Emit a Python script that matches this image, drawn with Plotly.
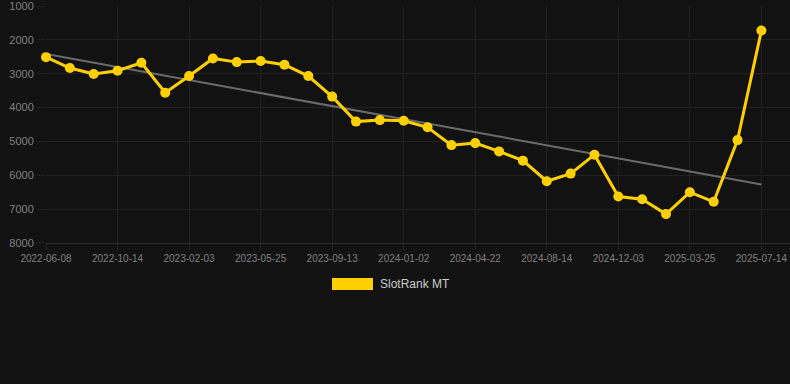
import numpy as np
import plotly.graph_objects as go

dates = [
    "2022-06-08", "2022-07-21", "2022-09-02", "2022-10-14", "2022-11-20", "2022-12-28",
    "2023-02-03", "2023-03-12", "2023-04-18", "2023-05-25", "2023-07-01", "2023-08-07",
    "2023-09-13", "2023-10-20", "2023-11-26", "2024-01-02", "2024-02-08", "2024-03-16",
    "2024-04-22", "2024-05-30", "2024-07-07", "2024-08-14", "2024-09-20", "2024-10-27",
    "2024-12-03", "2025-01-09", "2025-02-15", "2025-03-25", "2025-05-01", "2025-06-07",
    "2025-07-14",
]
rank = [
    2510, 2833, 3010, 2912, 2676, 3559, 3068, 2549, 2657, 2622, 2735, 3068,
    3676, 4415, 4370, 4390, 4583, 5109, 5050, 5294, 5568, 6176, 5951, 5392,
    6627, 6706, 7147, 6500, 6784, 4961, 1725,
]
series_name = "SlotRank MT"
y_ticks = [1000, 2000, 3000, 4000, 5000, 6000, 7000, 8000]
x_tick_labels = dates[::3]

idx = np.arange(len(rank))
slope, intercept = np.polyfit(idx, rank, 1)
trend = slope * idx + intercept

GOLD = "#FFD000"
BG = "#121212"
GRID = "#212121"
TICKC = "#808080"

fig = go.Figure()
fig.add_trace(go.Scatter(
    x=dates, y=trend, mode="lines",
    line=dict(color="#6b6b6b", width=2),
    hoverinfo="skip", showlegend=False, cliponaxis=False,
))
fig.add_trace(go.Scatter(
    x=dates, y=rank, mode="lines+markers", name=series_name,
    line=dict(color=GOLD, width=3),
    marker=dict(color=GOLD, size=10),
    showlegend=False, cliponaxis=False,
))

fig.update_layout(
    width=790, height=384,
    margin=dict(l=46, r=0, t=6, b=141, autoexpand=False),
    paper_bgcolor=BG, plot_bgcolor=BG,
    font=dict(family="Liberation Sans, Arial, sans-serif", color=TICKC),
    showlegend=False,
    xaxis=dict(
        type="category",
        categoryorder="array", categoryarray=dates,
        range=[0, 31.2],
        tickmode="array", tickvals=x_tick_labels, ticktext=x_tick_labels,
        tickfont=dict(size=10, color=TICKC),
        showgrid=True, gridcolor=GRID, gridwidth=1,
        showline=True, linecolor="#2c2c2c", linewidth=1,
        ticks="outside", ticklen=6, tickcolor="#262626",
        zeroline=False, automargin=False,
    ),
    yaxis=dict(
        range=[8000.5, 999.5],
        tickmode="array", tickvals=y_ticks,
        tickfont=dict(size=11, color=TICKC),
        showgrid=True, gridcolor=GRID, gridwidth=1,
        zeroline=False, showline=False,
        ticks="outside", ticklen=8, tickcolor=GRID,
        ticklabelstandoff=1, automargin=False,
        ticklabeloverflow="allow",
    ),
    shapes=[dict(
        type="rect", xref="paper", yref="paper",
        x0=(332 - 46) / 744, x1=(373 - 46) / 744,
        y0=(384 - 141 - 290) / 237, y1=(384 - 141 - 278) / 237,
        fillcolor=GOLD, line=dict(width=0),
    )],
    annotations=[dict(
        text=series_name, xref="paper", yref="paper",
        x=(378 - 46) / 744, y=(384 - 141 - 284) / 237,
        xanchor="left", yanchor="middle", showarrow=False,
        font=dict(size=12, color="#cccccc"),
    )],
)

fig.write_html(
    "out.html",
    config={"displayModeBar": False},
    post_script="document.body.style.margin='0';document.body.style.background='#121212';",
)
